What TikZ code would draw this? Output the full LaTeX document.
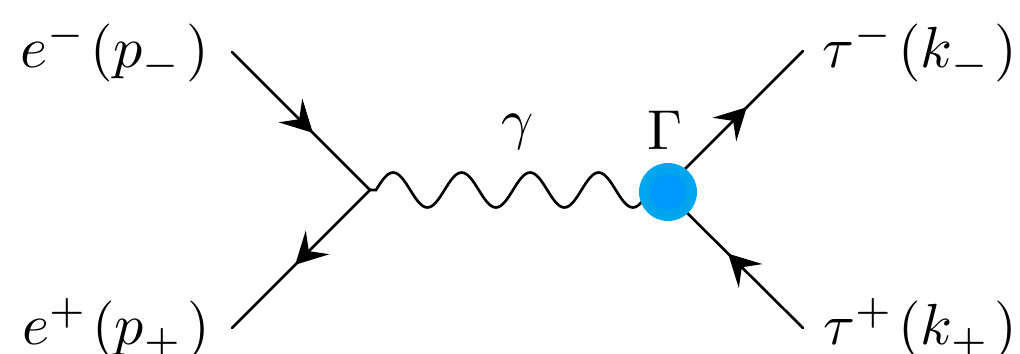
\documentclass[tikz,border=0pt]{standalone}
\usetikzlibrary{arrows.meta,decorations.markings}
\definecolor{blobouter}{RGB}{0,166,237}
\definecolor{blobinner}{RGB}{0,153,255}
\setlength{\scriptspace}{1.3pt}
\tikzset{
  fermion/.style={line width=1.5pt, line cap=round, postaction={decorate,
    decoration={markings, mark=at position #1 with {\arrow{Stealth[length=18pt, width=19pt, inset=7pt]}}}}},
  photon/.style={line width=1.5pt},
  label/.style={scale=3.3, inner sep=0pt, anchor=base},
  smalllabel/.style={scale=3.2, inner sep=0pt, anchor=base},
}
\begin{document}
\begin{tikzpicture}
  \useasboundingbox (0,0) rectangle (20.4,7.08);

  \coordinate (eminus) at (4.64,6.04);
  \coordinate (eplus) at (4.64,0.52);
  \coordinate (tauminus) at (16.06,6.06);
  \coordinate (tauplus) at (16.06,0.52);
  \coordinate (vleft) at (7.40,3.28);
  \coordinate (vright) at (13.28,3.28);

  \draw[photon] (vleft) -- ++(0.12,0)
    \foreach \n in {1,...,4} { sin ++(0.3425,0.35) cos ++(0.3425,-0.35) sin ++(0.3425,-0.35) cos ++(0.3425,0.35) }
    -- (vright);
  \draw[fermion=0.587] (eminus) -- (vleft);
  \draw[fermion=0.543] (vleft) -- (eplus);
  \draw[fermion=0.597] (vright) -- (tauminus);
  \draw[fermion=0.54] (tauplus) -- (vright);

  \node[circle, fill=blobouter, minimum size=1.16cm, inner sep=0pt] (blob) at (13.36,3.24) {};
  \node[circle, fill=blobinner, minimum size=0.72cm, inner sep=0pt] (core) at (13.36,3.24) {};

  \node[label] (lemin) at (2.29,5.72) {\(e^-(p_-)\)};
  \node[label] (lepl) at (2.32,0.18) {\(e^+(p_+)\)};
  \node[label] (ltaumin) at (18.40,5.72) {\(\tau^-(k_-)\)};
  \node[label] (ltaupl) at (18.40,0.18) {\(\tau^+(k_+)\)};
  \node[smalllabel] (lgamma) at (10.36,4.30) {\(\gamma\)};
  \node[smalllabel] (lGamma) at (13.30,4.08) {\(\Gamma\)};
\end{tikzpicture}
\end{document}
